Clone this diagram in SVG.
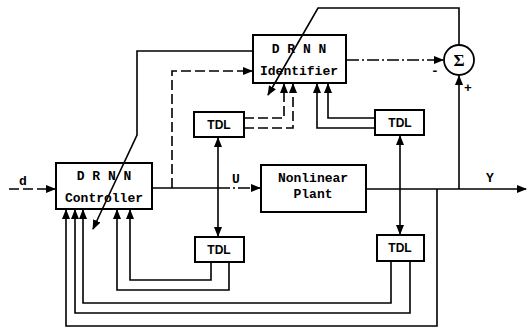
<svg xmlns="http://www.w3.org/2000/svg" width="531" height="328" viewBox="0 0 531 328">
<style>
.box{fill:#fff;stroke:#000;stroke-width:2}
.ln{fill:none;stroke:#000;stroke-width:1.6}
.dash{stroke-dasharray:10 4}
.dd{stroke-dasharray:12 3 2 3}
.t{font-family:"Liberation Mono",monospace;font-weight:bold;font-size:13px;fill:#000}
.s{font-family:"Liberation Sans",Arial,sans-serif;font-weight:bold;font-size:12px;fill:#000}
</style>
<defs>
<marker id="ah" markerUnits="userSpaceOnUse" markerWidth="10" markerHeight="8" refX="9" refY="4" orient="auto">
<path d="M0,0 L10,4 L0,8 z" fill="#000"/>
</marker>
</defs>
<rect width="531" height="328" fill="#fff"/>
<g id="controller">
<rect class="box" x="56" y="163" width="96" height="46"/>
<text class="t" x="104" y="180" text-anchor="middle">D R N N</text>
<text class="t" x="104" y="202" text-anchor="middle">Controller</text>
</g>
<g id="identifier">
<rect class="box" x="253" y="35" width="93" height="48"/>
<text class="t" x="299" y="53" text-anchor="middle">D R N N</text>
<text class="t" x="299" y="75" text-anchor="middle">Identifier</text>
</g>
<g id="plant">
<rect class="box" x="261" y="165" width="105" height="47"/>
<text class="t" x="313" y="182" text-anchor="middle">Nonlinear</text>
<text class="t" x="313" y="198" text-anchor="middle">Plant</text>
</g>
<g id="tdl1">
<rect class="box" x="194" y="112" width="50" height="25"/>
<text class="s" x="219" y="129" text-anchor="middle">TDL</text>
</g>
<g id="tdl2">
<rect class="box" x="195" y="237" width="49" height="25"/>
<text class="s" x="219" y="254" text-anchor="middle">TDL</text>
</g>
<g id="tdl3">
<rect class="box" x="375" y="110" width="49" height="25"/>
<text class="s" x="400" y="127" text-anchor="middle">TDL</text>
</g>
<g id="tdl4">
<rect class="box" x="377" y="235" width="47" height="26"/>
<text class="s" x="400" y="252" text-anchor="middle">TDL</text>
</g>
<g id="sum">
<circle cx="459" cy="60" r="15" fill="#fff" stroke="#000" stroke-width="1.8"/>
<text x="459" y="66" text-anchor="middle" font-family="Liberation Serif,serif" font-weight="bold" font-size="17">Σ</text>
</g>
<g id="connectors">
<path class="ln dash" d="M9,189 H55" marker-end="url(#ah)"/>
<path class="ln" d="M153,188 H218"/>
<path class="ln dd" d="M218,188 H260" marker-end="url(#ah)"/>
<path class="ln dash" d="M172,188 V71 H252" marker-end="url(#ah)"/>
<path class="ln" d="M218,188 V138" marker-end="url(#ah)"/>
<path class="ln" d="M218,188 V236" marker-end="url(#ah)"/>
<path class="ln" d="M367,189 H526" marker-end="url(#ah)"/>
<path class="ln" d="M459,189 V76" marker-end="url(#ah)"/>
<path class="ln" d="M459,45 V8 H318 L268,95" marker-end="url(#ah)"/>
<path class="ln dd" d="M347,60 H443" marker-end="url(#ah)"/>
<path class="ln" d="M252,51 H137 V135 L93,229" marker-end="url(#ah)"/>
<path class="ln" d="M400,189 V136" marker-end="url(#ah)"/>
<path class="ln" d="M400,189 V234" marker-end="url(#ah)"/>
<path class="ln dash" d="M244,118 H284 V84" marker-end="url(#ah)"/>
<path class="ln dash" d="M244,128 H293 V84" marker-end="url(#ah)"/>
<path class="ln" d="M375,118 H328 V84" marker-end="url(#ah)"/>
<path class="ln" d="M375,128 H317 V84" marker-end="url(#ah)"/>
<path class="ln" d="M211,262 V280 H130 V210" marker-end="url(#ah)"/>
<path class="ln" d="M229,262 V290 H117 V210" marker-end="url(#ah)"/>
<path class="ln" d="M391,261 V303 H83 V210" marker-end="url(#ah)"/>
<path class="ln" d="M410,261 V313 H75 V210" marker-end="url(#ah)"/>
<path class="ln" d="M437,189 V326 H66 V210" marker-end="url(#ah)"/>
</g>
<g id="labels">
<text class="t" x="23" y="185" text-anchor="middle">d</text>
<text class="t" x="236" y="183" text-anchor="middle">U</text>
<text class="t" x="490" y="182" text-anchor="middle">Y</text>
<text class="t" x="435" y="75" text-anchor="middle">-</text>
<text class="t" x="468" y="92" text-anchor="middle">+</text>
</g>
</svg>
